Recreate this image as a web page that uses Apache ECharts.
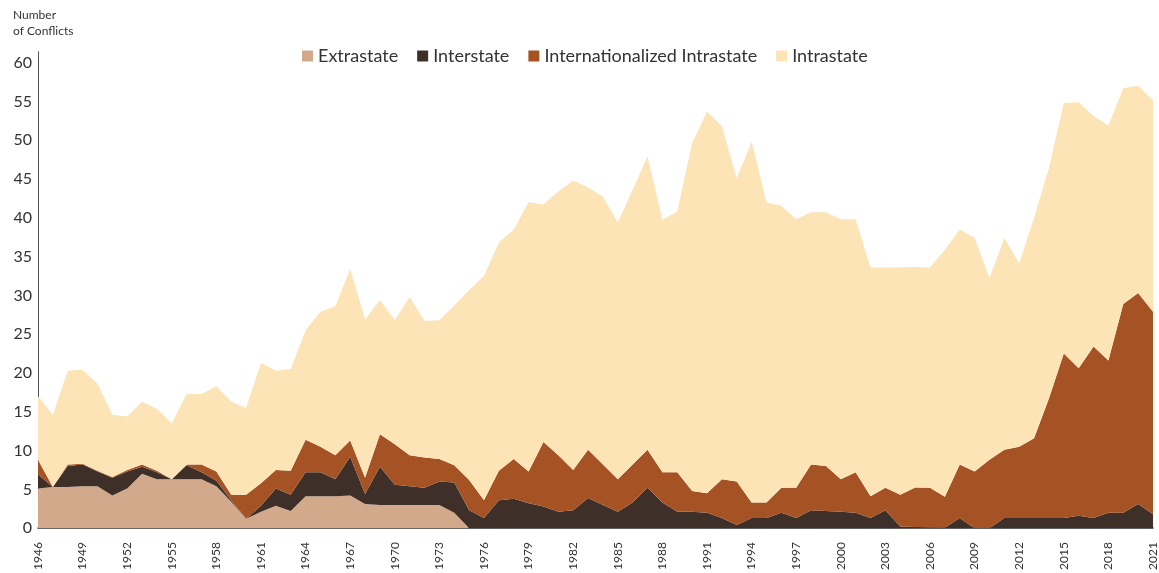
<!DOCTYPE html>
<html>
<head>
<meta charset="utf-8">
<script src="https://cdn.jsdelivr.net/npm/echarts@6/dist/echarts.min.js"></script>
<style>
html,body{margin:0;padding:0;background:#fff;}
#chart{width:1159px;height:573px;}
</style>
</head>
<body>
<div id="chart"></div>
<script>
const years = ['1946','1947','1948','1949','1950','1951','1952','1953','1954','1955','1956','1957','1958','1959','1960','1961','1962','1963','1964','1965','1966','1967','1968','1969','1970','1971','1972','1973','1974','1975','1976','1977','1978','1979','1980','1981','1982','1983','1984','1985','1986','1987','1988','1989','1990','1991','1992','1993','1994','1995','1996','1997','1998','1999','2000','2001','2002','2003','2004','2005','2006','2007','2008','2009','2010','2011','2012','2013','2014','2015','2016','2017','2018','2019','2020','2021'];

const extrastate = [5.1,5.3,5.3,5.4,5.4,4.2,5.1,7.0,6.3,6.3,6.3,6.3,5.4,3.4,1.2,2.1,2.9,2.2,4.1,4.1,4.1,4.2,3.1,3.0,3.0,3.0,3.0,3.0,2.0,
  0,0,0,0,0,0,0,0,0,0,0,0,0,0,0,0,0,0,0,0,0,0,0,0,0,0,0,0,0,0,0,0,0,0,0,0,0,0,0,0,0,0,0,0,0,0,0];

const interstate = [1.8,0,2.7,2.8,1.9,2.3,2.2,0.9,0.9,0,1.8,0.9,0.7,0.2,0,0.8,2.2,2.1,3.1,3.1,2.2,5.0,1.3,4.9,2.6,2.4,2.2,3.0,3.9,2.3,
  1.3,3.6,3.8,3.2,2.8,2.1,2.3,3.9,3.0,2.1,3.3,5.2,3.3,2.1,2.1,2.0,1.3,0.4,1.3,1.3,2.0,1.3,2.3,2.2,2.1,2.0,1.3,2.3,0.2,0.15,
  0.1,0.05,1.3,0,0,1.3,1.3,1.3,1.3,1.3,1.6,1.3,2.0,2.0,3.1,1.8];

const internationalized = [1.9,0,0.2,0.1,0.1,0.1,0.2,0.3,0.2,0,0.1,1.0,1.2,0.7,3.1,2.9,2.4,3.1,4.2,3.3,3.1,2.1,2.1,4.2,5.2,4.0,3.9,2.9,2.2,3.9,
  2.3,3.8,5.1,4.1,8.3,7.3,5.2,6.2,5.2,4.2,4.9,4.9,3.9,5.1,2.7,2.5,5.0,5.6,2.0,2.0,3.2,3.9,5.9,5.8,4.2,5.2,2.8,2.9,4.1,5.1,
  5.1,4.0,6.9,7.3,8.8,8.8,9.2,10.3,15.4,21.2,19.0,22.1,19.6,26.9,27.2,26.1];

const intrastate = [8.2,9.3,12.1,12.1,11.2,8.0,6.9,8.1,8.0,7.2,9.1,9.1,11.0,12.0,11.2,15.5,12.8,13.1,14.1,17.4,19.2,22.1,20.4,17.3,16.0,20.4,17.6,17.9,20.6,24.5,
  28.9,29.4,29.6,34.7,30.6,34.0,37.3,33.8,34.5,33.1,35.4,37.8,32.5,33.6,44.8,49.2,45.5,39.1,46.5,38.7,36.3,34.6,32.5,32.7,33.5,32.6,29.5,28.4,29.3,28.4,
  28.4,31.8,30.3,30.1,23.4,27.3,23.6,28.4,29.7,32.3,34.3,29.7,30.3,27.8,26.7,27.2];

const seriesNames = ['Extrastate','Interstate','Internationalized Intrastate','Intrastate'];
const seriesColors = ['#d3a98b','#3e3029','#a55224','#fce4b6'];
const seriesData = [extrastate, interstate, internationalized, intrastate];

const FONT = 'Lato, "Open Sans", sans-serif';

const chart = echarts.init(document.getElementById('chart'), null, {renderer:'canvas'});
chart.setOption({
  animation: false,
  backgroundColor: '#ffffff',
  title: {
    text: 'Number\nof Conflicts',
    left: 8, top: 2,
    textStyle: {fontFamily: FONT, fontSize: 12, fontWeight: 'normal', color: '#333', lineHeight: 16}
  },
  legend: {
    data: seriesNames,
    top: 47,
    left: 302,
    padding: 0,
    itemWidth: 11,
    itemHeight: 11,
    itemGap: 19,
    icon: 'rect',
    textStyle: {fontFamily: FONT, fontSize: 18, color: '#333'}
  },
  grid: {left: 38, right: 1, top: 51.7, bottom: 43, containLabel: false},
  xAxis: {
    type: 'category',
    data: years,
    boundaryGap: false,
    axisLine: {show: true, lineStyle: {color: '#333', width: 1.5}},
    axisTick: {show: false},
    axisLabel: {interval: 2, rotate: 90, margin: 14, fontFamily: FONT, fontSize: 12, color: '#333'},
    splitLine: {show: false}
  },
  yAxis: {
    type: 'value',
    min: 0, max: 61.4, interval: 5,
    axisLine: {show: true, lineStyle: {color: '#555', width: 1}},
    axisTick: {show: false},
    axisLabel: {showMaxLabel: false, margin: 6, fontFamily: FONT, fontSize: 16, color: '#333'},
    splitLine: {show: false}
  },
  series: seriesNames.map((name, i) => ({
    name: name,
    type: 'line',
    stack: 'total',
    data: seriesData[i],
    symbol: 'none',
    showSymbol: false,
    smooth: false,
    lineStyle: {width: 0, opacity: 0},
    areaStyle: {color: seriesColors[i], opacity: 1},
    itemStyle: {color: seriesColors[i]},
    z: 2
  }))
});
</script>
</body>
</html>
